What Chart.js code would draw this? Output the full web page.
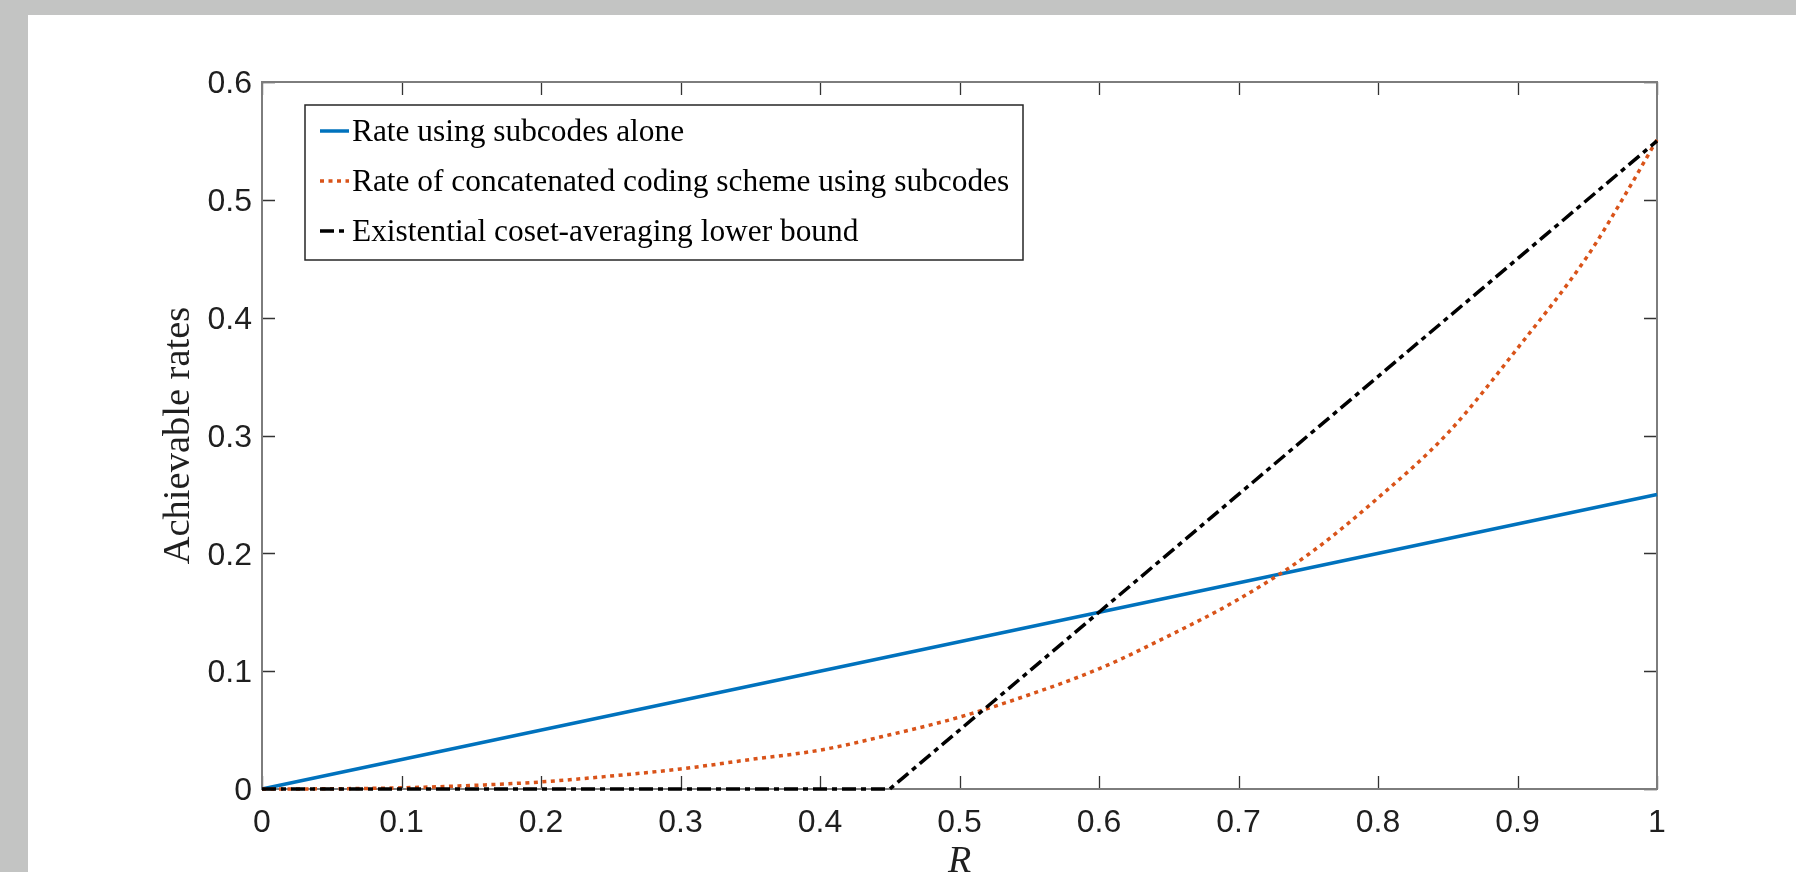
<!DOCTYPE html>
<html>
<head>
<meta charset="utf-8">
<script src="https://cdn.jsdelivr.net/npm/chart.js@4.4.1/dist/chart.umd.min.js"></script>
<style>
  html, body { margin: 0; padding: 0; width: 1796px; height: 872px; overflow: hidden; background: #c3c4c3; }
  #paper { position: absolute; left: 28px; top: 15px; width: 1768px; height: 857px; background: #ffffff; }
  #c { position: absolute; left: 0; top: 0; }
</style>
</head>
<body>
<div id="paper"></div>
<canvas id="c" width="1796" height="872"></canvas>
<script>
// ---------------- data ----------------
const seriesNames = [
  'Rate using subcodes alone',
  'Rate of concatenated coding scheme using subcodes',
  'Existential coset-averaging lower bound'
];
const rSubcodes = [0, 1];
const rateSubcodesAlone = [0, 0.25];

const rConcat = [0, 0.05, 0.1, 0.15, 0.2, 0.25, 0.3, 0.35, 0.4, 0.45, 0.5, 0.55, 0.6, 0.65, 0.7, 0.75, 0.8, 0.85, 0.9, 0.95, 0.975, 1];
const rateConcat = [0, 0.0002, 0.001, 0.003, 0.006, 0.011, 0.017, 0.025, 0.033, 0.046, 0.061, 0.080, 0.102, 0.130, 0.161, 0.199, 0.247, 0.302, 0.374, 0.452, 0.500, 0.551];

const rBound = [0, 0.45, 1];
const rateBound = [0, 0, 0.55];

const xTickValues = [0, 0.1, 0.2, 0.3, 0.4, 0.5, 0.6, 0.7, 0.8, 0.9, 1];
const xTickLabels = ['0', '0.1', '0.2', '0.3', '0.4', '0.5', '0.6', '0.7', '0.8', '0.9', '1'];
const yTickValues = [0, 0.1, 0.2, 0.3, 0.4, 0.5, 0.6];
const yTickLabels = ['0', '0.1', '0.2', '0.3', '0.4', '0.5', '0.6'];
const xTitle = 'R';
const yTitle = 'Achievable rates';

// ---------------- helpers ----------------
const pts = (xs, ys) => xs.map((x, i) => ({ x: x, y: ys[i] }));

const SERIF = '"Liberation Serif", "Times New Roman", serif';
const SANS = '"Liberation Sans", Arial, Helvetica, sans-serif';

// Axes box + inward ticks (MATLAB style)
const axesBoxPlugin = {
  id: 'axesBox',
  beforeDatasetsDraw(chart) {
    const { ctx, chartArea: a, scales } = chart;
    const tl = 13;
    ctx.save();
    ctx.strokeStyle = '#333333';
    ctx.lineWidth = 1.3;
    ctx.beginPath();
    xTickValues.forEach(v => {
      const px = Math.round(scales.x.getPixelForValue(v)) + 0.5;
      ctx.moveTo(px, a.bottom); ctx.lineTo(px, a.bottom - tl);
      ctx.moveTo(px, a.top); ctx.lineTo(px, a.top + tl);
    });
    yTickValues.forEach(v => {
      const py = Math.round(scales.y.getPixelForValue(v)) + 0.5;
      ctx.moveTo(a.left, py); ctx.lineTo(a.left + tl, py);
      ctx.moveTo(a.right, py); ctx.lineTo(a.right - tl, py);
    });
    ctx.stroke();
    ctx.strokeStyle = '#7d7d7d';
    ctx.lineWidth = 2;
    ctx.strokeRect(a.left, a.top, a.right - a.left, a.bottom - a.top);
    ctx.restore();
  }
};

// Legend drawn inside the axes, top-left (MATLAB style)
const innerLegendPlugin = {
  id: 'innerLegend',
  afterDraw(chart) {
    const { ctx, chartArea: a } = chart;
    const bx = a.left + 43, by = a.top + 23, bw = 718, bh = 155;
    ctx.save();
    ctx.fillStyle = '#ffffff';
    ctx.fillRect(bx, by, bw, bh);
    ctx.strokeStyle = '#262626';
    ctx.lineWidth = 1.5;
    ctx.strokeRect(bx, by, bw, bh);
    chart.data.datasets.forEach((ds, i) => {
      const y = by + 26 + i * 50;
      ctx.save();
      ctx.strokeStyle = ds.borderColor;
      ctx.lineWidth = ds.borderWidth;
      ctx.setLineDash(ds.borderDash || []);
      ctx.lineCap = 'butt';
      ctx.beginPath();
      ctx.moveTo(bx + 15, y);
      ctx.lineTo(bx + 44, y);
      ctx.stroke();
      ctx.restore();
      ctx.fillStyle = '#000000';
      ctx.font = '31.4px ' + SERIF;
      ctx.textBaseline = 'middle';
      ctx.textAlign = 'left';
      ctx.fillText(ds.label, bx + 47, y + 2);
    });
    ctx.restore();
  }
};

const ctx = document.getElementById('c').getContext('2d');
new Chart(ctx, {
  type: 'line',
  data: {
    datasets: [
      {
        label: seriesNames[0],
        data: pts(rSubcodes, rateSubcodesAlone),
        borderColor: '#0072BD',
        borderWidth: 3.5,
        pointRadius: 0,
        tension: 0,
        order: 3
      },
      {
        label: seriesNames[1],
        data: pts(rConcat, rateConcat),
        borderColor: '#D95319',
        borderWidth: 3.5,
        borderDash: [4, 4.5],
        pointRadius: 0,
        cubicInterpolationMode: 'monotone',
        order: 2
      },
      {
        label: seriesNames[2],
        data: pts(rBound, rateBound),
        borderColor: '#000000',
        borderWidth: 3.5,
        borderDash: [14, 5, 5, 5],
        pointRadius: 0,
        tension: 0,
        order: 1
      }
    ]
  },
  options: {
    responsive: false,
    animation: false,
    devicePixelRatio: 1,
    clip: 10,
    layout: { padding: { left: 0, right: 139, top: 82, bottom: 0 } },
    plugins: { legend: { display: false }, tooltip: { enabled: false } },
    scales: {
      x: {
        type: 'linear',
        min: 0, max: 1,
        afterBuildTicks(s) { s.ticks = xTickValues.map(v => ({ value: v })); },
        afterFit(s) { s.height = 83; },
        grid: { display: false, drawTicks: false },
        border: { display: false },
        ticks: {
          autoSkip: false, maxRotation: 0, padding: 15,
          color: '#1f1f1f',
          font: { family: SANS, size: 32 },
          callback: (v, i) => xTickLabels[i]
        },
        title: {
          display: true, text: xTitle, color: '#1f1f1f',
          font: { family: SERIF, size: 38, style: 'italic', lineHeight: '20px' },
          padding: { top: 0, bottom: 0 }
        }
      },
      y: {
        type: 'linear',
        min: 0, max: 0.6,
        afterBuildTicks(s) { s.ticks = yTickValues.map(v => ({ value: v })); },
        afterFit(s) { s.width = 262; },
        grid: { display: false, drawTicks: false },
        border: { display: false },
        ticks: {
          autoSkip: false, padding: 10, labelOffset: 2.5,
          color: '#1f1f1f',
          font: { family: SANS, size: 32 },
          callback: (v, i) => yTickLabels[i]
        },
        title: {
          display: true, text: yTitle, color: '#1f1f1f',
          font: { family: SERIF, size: 38.5 },
          padding: { top: 156, bottom: 0 }
        }
      }
    }
  },
  plugins: [axesBoxPlugin, innerLegendPlugin]
});
</script>
</body>
</html>
